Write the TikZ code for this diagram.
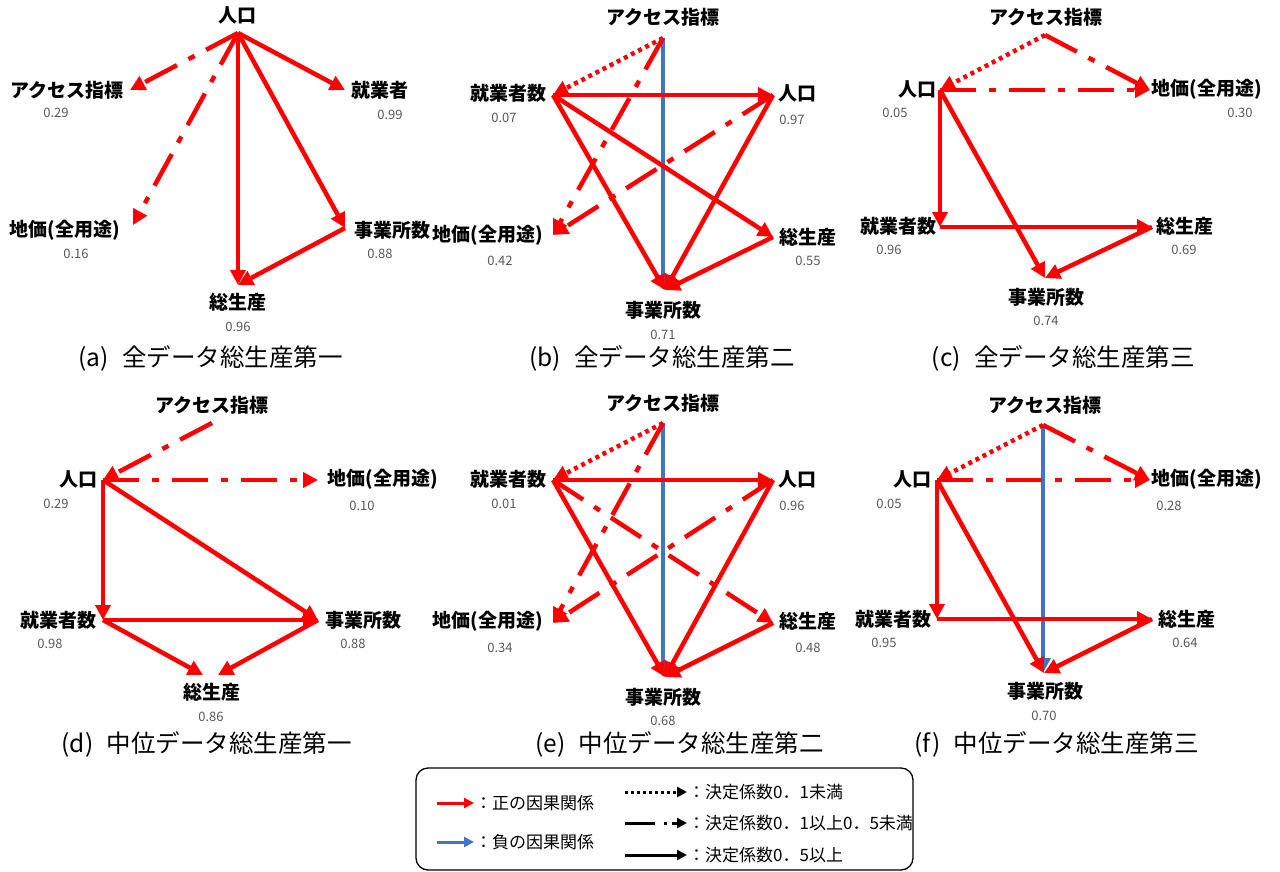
\documentclass[tikz,border=0pt]{standalone}
\usepackage{fontspec}
\setmainfont{Noto Sans CJK JP}
\usetikzlibrary{arrows.meta}
\definecolor{posred}{HTML}{FF0000}
\definecolor{negblue}{HTML}{4472C4}
\definecolor{valgray}{HTML}{595959}
\tikzset{
  lab/.style={font=\fontsize{19}{21}\selectfont\bfseries, inner sep=0pt},
  val/.style={font=\fontsize{13}{15}\selectfont, text=valgray, inner sep=0pt},
  captxt/.style={font=\fontsize{24.5}{27}\selectfont, inner sep=0pt, anchor=east},
  legtxt/.style={font=\fontsize{17}{19}\selectfont, inner sep=0pt, anchor=west},
  causal/.style={line width=4.5pt, -{Triangle[length=15pt,width=15pt]}},
  posarr/.style={causal, color=posred},
  negarr/.style={causal, color=negblue},
  lowr/.style={dash pattern=on 4pt off 4pt},
  midr/.style={dash pattern=on 36pt off 13pt on 7pt off 13pt},
  legarr/.style={line width=3pt, -{Triangle[length=10pt,width=10pt]}},
}
\newcommand{\captag}[1]{(#1)\hspace{0.55em}}
\begin{document}
\begin{tikzpicture}[x=1pt,y=-1pt]
\useasboundingbox (0,0) rectangle (1280,872);

% ---------- (a) ----------
\coordinate (a-pop) at (238,33);
\coordinate (a-acc) at (130,90);
\coordinate (a-emp) at (345,90);
\coordinate (a-land) at (133,225);
\coordinate (a-est) at (345,228);
\coordinate (a-gdp) at (238,285);
\draw[posarr,midr] (a-pop) -- (a-acc);
\draw[posarr,midr] (a-pop) -- (a-land);
\draw[posarr] (a-pop) -- (a-emp);
\draw[posarr] (a-pop) -- (a-est);
\draw[posarr] (a-pop) -- (a-gdp);
\draw[posarr] (a-est) -- (a-gdp);
\node[lab] (a-pop-l) at (237,15) {人口};
\node[lab] (a-acc-l) at (67,90) {アクセス指標};
\node[val] (a-acc-v) at (56,113) {0.29};
\node[lab] (a-emp-l) at (380,90) {就業者};
\node[val] (a-emp-v) at (390,115) {0.99};
\node[lab] (a-land-l) at (65,230) {地価(全用途)};
\node[val] (a-land-v) at (76,254) {0.16};
\node[lab] (a-est-l) at (392,230) {事業所数};
\node[val] (a-est-v) at (380,254) {0.88};
\node[lab] (a-gdp-l) at (238,302) {総生産};
\node[val] (a-gdp-v) at (238,327) {0.96};
\node[captxt] (a-cap) at (343,358) {\captag{a}全データ総生産第一};

% ---------- (b) ----------
\coordinate (b-acc) at (663,38);
\coordinate (b-emp) at (553,95);
\coordinate (b-pop) at (773,95);
\coordinate (b-land) at (553,235);
\coordinate (b-gdp) at (773,237);
\coordinate (b-est) at (665,290);
\draw[negarr] (b-acc) -- (b-acc |- b-est);
\draw[posarr,lowr] (b-acc) -- (b-emp);
\draw[posarr,midr] (b-acc) -- (b-land);
\draw[posarr,midr] (b-pop) -- (b-land);
\draw[posarr] (b-emp) -- (b-pop);
\draw[posarr] (b-emp) -- (b-gdp);
\draw[posarr] (b-emp) -- (b-est);
\draw[posarr] (b-pop) -- (b-est);
\draw[posarr] (b-gdp) -- (b-est);
\node[lab] (b-acc-l) at (663,17) {アクセス指標};
\node[lab] (b-emp-l) at (508,93) {就業者数};
\node[val] (b-emp-v) at (504,118) {0.07};
\node[lab] (b-pop-l) at (797,93) {人口};
\node[val] (b-pop-v) at (792,120) {0.97};
\node[lab] (b-land-l) at (488,235) {地価(全用途)};
\node[val] (b-land-v) at (500,261) {0.42};
\node[lab] (b-gdp-l) at (808,237) {総生産};
\node[val] (b-gdp-v) at (808,261) {0.55};
\node[lab] (b-est-l) at (663,310) {事業所数};
\node[val] (b-est-v) at (663,335) {0.71};
\node[captxt] (b-cap) at (795,358) {\captag{b}全データ総生産第二};

% ---------- (c) ----------
\coordinate (c-acc) at (1045,35);
\coordinate (c-pop) at (940,90);
\coordinate (c-land) at (1150,90);
\coordinate (c-emp) at (940,227);
\coordinate (c-gdp) at (1152,227);
\coordinate (c-est) at (1045,278);
\draw[posarr,lowr] (c-acc) -- (c-pop);
\draw[posarr,midr] (c-acc) -- (c-land);
\draw[posarr,midr] (c-pop) -- (c-land);
\draw[posarr] (c-pop) -- (c-emp);
\draw[posarr] (c-pop) -- (c-est);
\draw[posarr] (c-emp) -- (c-gdp);
\draw[posarr] (c-gdp) -- (c-est);
\node[lab] (c-acc-l) at (1046,17) {アクセス指標};
\node[lab] (c-pop-l) at (917,89) {人口};
\node[val] (c-pop-v) at (895,113) {0.05};
\node[lab] (c-land-l) at (1207,89) {地価(全用途)};
\node[val] (c-land-v) at (1240,113) {0.30};
\node[lab] (c-emp-l) at (898,226) {就業者数};
\node[val] (c-emp-v) at (889,250) {0.96};
\node[lab] (c-gdp-l) at (1185,226) {総生産};
\node[val] (c-gdp-v) at (1184,250) {0.69};
\node[lab] (c-est-l) at (1046,297) {事業所数};
\node[val] (c-est-v) at (1046,321) {0.74};
\node[captxt] (c-cap) at (1195,358) {\captag{c}全データ総生産第三};

% ---------- (d) ----------
\coordinate (d-acc) at (212,423);
\coordinate (d-pop) at (103,480);
\coordinate (d-land) at (318,480);
\coordinate (d-emp) at (103,620);
\coordinate (d-est) at (318,620);
\coordinate (d-gdp) at (210,675);
\draw[posarr,midr] (d-acc) -- (d-pop);
\draw[posarr,midr] (d-pop) -- (d-land);
\draw[posarr] (d-pop) -- (d-emp);
\draw[posarr] (d-pop) -- (d-est);
\draw[posarr] (d-emp) -- (d-est);
\draw[posarr] (d-emp) -- ([xshift=-7pt]d-gdp);
\draw[posarr] (d-est) -- ([xshift=8pt]d-gdp);
\node[lab] (d-acc-l) at (212,405) {アクセス指標};
\node[lab] (d-pop-l) at (78,479) {人口};
\node[val] (d-pop-v) at (56,504) {0.29};
\node[lab] (d-land-l) at (383,479) {地価(全用途)};
\node[val] (d-land-v) at (362,506) {0.10};
\node[lab] (d-emp-l) at (58,620) {就業者数};
\node[val] (d-emp-v) at (50,644) {0.98};
\node[lab] (d-est-l) at (363,620) {事業所数};
\node[val] (d-est-v) at (353,644) {0.88};
\node[lab] (d-gdp-l) at (212,692) {総生産};
\node[val] (d-gdp-v) at (211,717) {0.86};
\node[captxt] (d-cap) at (352,744) {\captag{d}中位データ総生産第一};

% ---------- (e) ----------
\coordinate (e-acc) at (663,423);
\coordinate (e-emp) at (553,480);
\coordinate (e-pop) at (773,480);
\coordinate (e-land) at (553,623);
\coordinate (e-gdp) at (773,623);
\coordinate (e-est) at (665,677);
\draw[negarr] (e-acc) -- (e-acc |- e-est);
\draw[posarr,lowr] (e-acc) -- (e-emp);
\draw[posarr,midr] (e-acc) -- (e-land);
\draw[posarr,midr] (e-pop) -- (e-land);
\draw[posarr,midr] (e-emp) -- (e-gdp);
\draw[posarr] (e-emp) -- (e-pop);
\draw[posarr] (e-emp) -- (e-est);
\draw[posarr] (e-pop) -- (e-est);
\draw[posarr] (e-gdp) -- (e-est);
\node[lab] (e-acc-l) at (663,403) {アクセス指標};
\node[lab] (e-emp-l) at (508,479) {就業者数};
\node[val] (e-emp-v) at (504,504) {0.01};
\node[lab] (e-pop-l) at (797,479) {人口};
\node[val] (e-pop-v) at (792,506) {0.96};
\node[lab] (e-land-l) at (488,621) {地価(全用途)};
\node[val] (e-land-v) at (500,648) {0.34};
\node[lab] (e-gdp-l) at (808,621) {総生産};
\node[val] (e-gdp-v) at (808,648) {0.48};
\node[lab] (e-est-l) at (663,697) {事業所数};
\node[val] (e-est-v) at (663,721) {0.68};
\node[captxt] (e-cap) at (824,744) {\captag{e}中位データ総生産第二};

% ---------- (f) ----------
\coordinate (f-acc) at (1043,425);
\coordinate (f-pop) at (937,480);
\coordinate (f-land) at (1150,480);
\coordinate (f-emp) at (937,619);
\coordinate (f-gdp) at (1152,619);
\coordinate (f-est) at (1044,673);
\draw[negarr] (f-acc) -- (f-acc |- f-est);
\draw[posarr,lowr] (f-acc) -- (f-pop);
\draw[posarr,midr] (f-acc) -- (f-land);
\draw[posarr,midr] (f-pop) -- (f-land);
\draw[posarr] (f-pop) -- (f-emp);
\draw[posarr] (f-pop) -- (f-est);
\draw[posarr] (f-emp) -- (f-gdp);
\draw[posarr] (f-gdp) -- (f-est);
\node[lab] (f-acc-l) at (1045,405) {アクセス指標};
\node[lab] (f-pop-l) at (912,479) {人口};
\node[val] (f-pop-v) at (889,504) {0.05};
\node[lab] (f-land-l) at (1207,479) {地価(全用途)};
\node[val] (f-land-v) at (1169,506) {0.28};
\node[lab] (f-emp-l) at (893,619) {就業者数};
\node[val] (f-emp-v) at (884,643) {0.95};
\node[lab] (f-gdp-l) at (1187,619) {総生産};
\node[val] (f-gdp-v) at (1185,643) {0.64};
\node[lab] (f-est-l) at (1045,691) {事業所数};
\node[val] (f-est-v) at (1044,716) {0.70};
\node[captxt] (f-cap) at (1199,744) {\captag{f}中位データ総生産第三};

% ---------- legend ----------
\node[draw, line width=1.3pt, rounded corners=12pt, minimum width=497pt,
      minimum height=102pt, inner sep=0pt] (legend) at (664.5,819) {};
\coordinate (lg-p0) at (437,803);
\coordinate (lg-p1) at (474,803);
\coordinate (lg-n0) at (437,842);
\coordinate (lg-n1) at (474,842);
\draw[legarr, color=posred] (lg-p0) -- (lg-p1);
\draw[legarr, color=negblue] (lg-n0) -- (lg-n1);
\node[legtxt] (lg-pt) at (475,803) {：正の因果関係};
\node[legtxt] (lg-nt) at (475,842) {：負の因果関係};
\coordinate (lg-a0) at (625,792);
\coordinate (lg-a1) at (687,792);
\coordinate (lg-b0) at (625,823);
\coordinate (lg-b1) at (687,823);
\coordinate (lg-c0) at (625,855);
\coordinate (lg-c1) at (687,855);
\draw[legarr, dash pattern=on 3pt off 3pt] (lg-a0) -- (lg-a1);
\draw[legarr, dash pattern=on 30pt off 9pt on 3pt off 5pt] (lg-b0) -- (lg-b1);
\draw[legarr] (lg-c0) -- (lg-c1);
\node[legtxt] (lg-at) at (688,792) {：決定係数0．1未満};
\node[legtxt] (lg-bt) at (688,823) {：決定係数0．1以上0．5未満};
\node[legtxt] (lg-ct) at (688,855) {：決定係数0．5以上};
\end{tikzpicture}
\end{document}
